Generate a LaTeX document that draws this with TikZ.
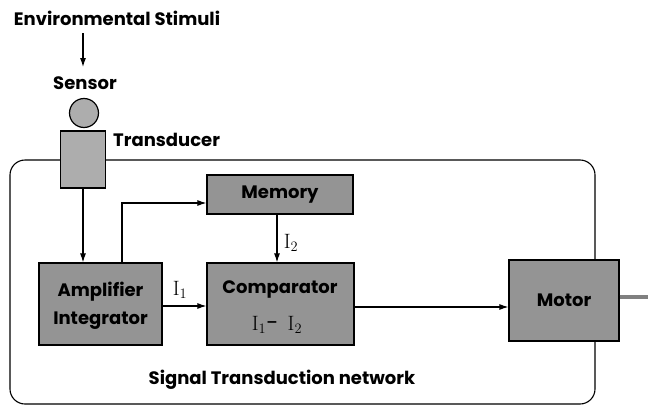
\documentclass[tikz,border=0pt]{standalone}
\usepackage[no-math]{fontspec}
\setmainfont{Poppins}
\usetikzlibrary{arrows.meta}
\tikzset{
  blk/.style={draw=black, line width=1.2pt, fill=black!42, inner sep=0pt},
  lbl/.style={font=\fontsize{18}{21}\selectfont\bfseries, inner sep=0pt},
  mth/.style={inner sep=0pt, font=\fontsize{22}{24}\selectfont},
  conn/.style={line width=1.1pt, -{Latex[length=9pt,width=6pt]}},
  wire/.style={line width=1.1pt}
}
\begin{document}
\begin{tikzpicture}[x=1pt,y=-1pt]
\useasboundingbox (0,0) rectangle (648,407);
% outer network frame
\draw[wire, rounded corners=15pt] (10,160) rectangle (595,404);
% text labels
\node[lbl] (env) at (117,18) {Environmental Stimuli};
\node[lbl] (sensorlbl) at (85,83) {Sensor};
\node[lbl, anchor=west] (translbl) at (113,140) {Transducer};
\node[lbl] (net) at (282,380) {Signal Transduction network};
% sensor and transducer
\node[blk, circle, minimum size=29pt, fill=black!32] (sensor) at (84,113) {};
\node[blk, minimum width=45pt, minimum height=57pt, fill=black!32] (trans) at (83,159.5) {};
% boxes
\node[blk, minimum width=146pt, minimum height=39pt, lbl] (mem) at (280,194.5) {Memory};
\node[blk, minimum width=123pt, minimum height=82pt] (amp) at (100.5,304) {};
\node[lbl, align=center] (amptxt) at (100.5,306) {Amplifier\\[7pt]Integrator};
\node[blk, minimum width=147pt, minimum height=82pt] (comp) at (280.5,304) {};
\node[lbl] (comptxt) at (280,289) {Comparator};
\node[mth] (compeq) at (277,325) {$\mathrm{I}_1\mbox{- }\,\mathrm{I}_2$};
\node[blk, minimum width=110pt, minimum height=81pt, lbl] (motor) at (564,300.5) {Motor};
% motor output
\coordinate (out) at (648,297);
\draw[line width=4.5pt, black!50] (motor.east |- out) -- (out);
% connectors
\coordinate (envbot) at (83,67);
\draw[conn] (83,33) -- (envbot);
\draw[conn] (trans.south) -- (trans.south |- amp.north);
\coordinate (ampup) at (122,203);
\draw[conn] (ampup |- amp.north) -- (ampup) -- (ampup -| mem.west);
\coordinate (memdown) at (277,214);
\draw[conn] (memdown) -- (memdown |- comp.north);
\coordinate (ampout) at (162,306);
\draw[conn] (ampout) -- (ampout -| comp.west);
\coordinate (compout) at (354,307);
\draw[conn] (compout) -- (compout -| motor.west);
% current labels
\node[mth] (i1) at (180,290) {$\mathrm{I}_1$};
\node[mth] (i2) at (291,243) {$\mathrm{I}_2$};
\end{tikzpicture}
\end{document}
